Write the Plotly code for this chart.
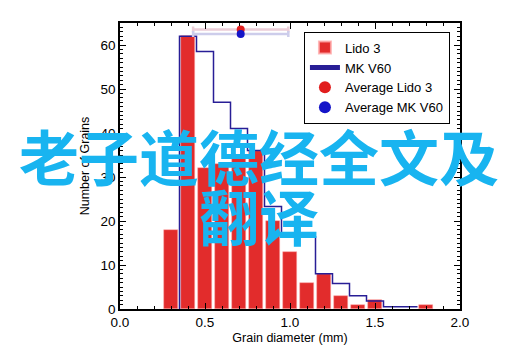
import plotly.graph_objects as go

# ---- data ----
lido_centers = [0.3, 0.4, 0.5, 0.6, 0.7, 0.8, 0.9, 1.0, 1.1, 1.2, 1.3, 1.4, 1.5, 1.8]
lido_counts = [18, 62, 32, 33, 35, 36, 20, 13, 6, 8, 3, 1, 2, 1]

mk_left_edges = [0.35, 0.45, 0.55, 0.65, 0.75, 0.85, 0.95, 1.05, 1.15, 1.25, 1.35, 1.45, 1.55, 1.65]
mk_counts = [62, 58.5, 47, 41, 36, 23.3, 16.4, 16.4, 8, 5.8, 3, 1.8, 0.5, 0.5]
mk_bin_width = 0.1

avg_lido_x = [0.71]
avg_lido_y = [63.5]
avg_lido_err = [0.28]
avg_mk_x = [0.71]
avg_mk_y = [62.5]
avg_mk_err = [0.28]

x_ticks = [0.0, 0.5, 1.0, 1.5, 2.0]
x_tick_labels = ["0.0", "0.5", "1.0", "1.5", "2.0"]
y_ticks = [0, 10, 20, 30, 40, 50, 60]

watermark_line1 = "老子道德经全文及"
watermark_line2 = "翻译"

# step line arrays built from bins
step_x = [mk_left_edges[0]] + mk_left_edges + [mk_left_edges[-1] + mk_bin_width]
step_y = [0] + mk_counts + [mk_counts[-1]]

FONT = "Liberation Sans, Arial, sans-serif"

fig = go.Figure()

fig.add_trace(go.Bar(
    x=lido_centers, y=lido_counts, width=0.08, name="Lido 3",
    marker=dict(color="rgb(226,44,44)", line=dict(color="rgba(255,170,170,0.8)", width=0.6)),
))
fig.add_trace(go.Scatter(
    x=step_x, y=step_y, mode="lines", line_shape="hv", name="MK V60",
    line=dict(color="rgb(40,30,150)", width=1.5),
))
fig.add_trace(go.Scatter(
    x=avg_lido_x, y=avg_lido_y, mode="markers", name="Average Lido 3",
    marker=dict(color="rgb(225,30,30)", size=8),
    error_x=dict(type="data", array=avg_lido_err, color="rgba(235,205,215,1)", thickness=2.5, width=3),
    cliponaxis=False,
))
fig.add_trace(go.Scatter(
    x=avg_mk_x, y=avg_mk_y, mode="markers", name="Average MK V60",
    marker=dict(color="rgb(20,20,200)", size=8),
    error_x=dict(type="data", array=avg_mk_err, color="rgba(205,205,235,1)", thickness=2.5, width=3),
    cliponaxis=False,
))

# page body has an 8px margin; figure sized/offset to compensate
fig.update_layout(
    width=507, height=351,
    margin=dict(l=112, r=55, t=15, b=50),
    paper_bgcolor="white", plot_bgcolor="white",
    font=dict(family=FONT, size=13, color="black"),
    showlegend=True,
    legend=dict(
        x=0.541, y=0.97, xanchor="left", yanchor="top",
        bgcolor="white", bordercolor="black", borderwidth=1,
        font=dict(family=FONT, size=13),
        tracegroupgap=0, itemsizing="constant", itemwidth=30,
    ),
    bargap=0,
)

fig.update_xaxes(
    range=[0, 2], tickvals=x_ticks, ticktext=x_tick_labels,
    showline=True, linecolor="black", linewidth=1.5, mirror="ticks",
    ticks="inside", ticklen=6, tickwidth=1.2, tickcolor="black",
    minor=dict(dtick=0.1, ticks="inside", ticklen=3, tickcolor="black", tickwidth=1),
    showgrid=False, zeroline=False,
    title=dict(text="Grain diameter (mm)", font=dict(size=12.5), standoff=4),
    tickfont=dict(size=13.5),
)
fig.update_yaxes(
    range=[0, 65], tickvals=y_ticks,
    showline=True, linecolor="black", linewidth=1.5, mirror="ticks",
    ticks="inside", ticklen=6, tickwidth=1.2, tickcolor="black",
    minor=dict(dtick=1, ticks="inside", ticklen=3, tickcolor="black", tickwidth=1),
    showgrid=False, zeroline=False,
    title=dict(text="Number of Grains", font=dict(size=12.5), standoff=8),
    tickfont=dict(size=13.5),
)

WM_COLOR = "rgb(24,180,240)"
WM_FONT = "Noto Sans CJK SC"
fig.add_annotation(
    text="<b>" + watermark_line1 + "</b>", xref="paper", yref="paper",
    x=(259 - 120) / 340, y=(309 - 154) / 286, xanchor="center", yanchor="middle",
    showarrow=False, font=dict(family=WM_FONT, size=60, color=WM_COLOR),
)
fig.add_annotation(
    text="<b>" + watermark_line2 + "</b>", xref="paper", yref="paper",
    x=(259 - 120) / 340, y=(309 - 214) / 286, xanchor="center", yanchor="middle",
    showarrow=False, font=dict(family=WM_FONT, size=60, color=WM_COLOR),
)

fig.write_html("out.html")
